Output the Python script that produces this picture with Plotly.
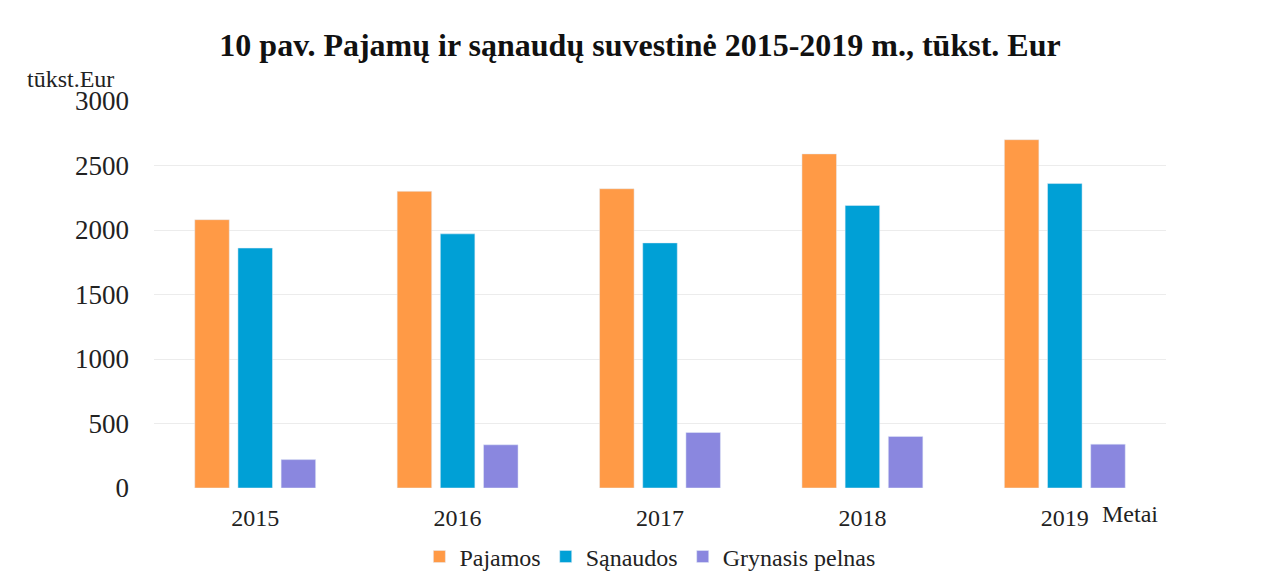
import plotly.graph_objects as go

years = ["2015", "2016", "2017", "2018", "2019"]
pajamos = [2080, 2300, 2320, 2590, 2700]
sanaudos = [1860, 1970, 1900, 2190, 2360]
pelnas = [220, 335, 430, 400, 340]
y_ticks = [0, 500, 1000, 1500, 2000, 2500, 3000]

FONT = "Liberation Serif, Times New Roman, serif"

fig = go.Figure()
fig.add_trace(go.Bar(x=years, y=pajamos, name="Pajamos", marker_color="#FF9A46"))
fig.add_trace(go.Bar(x=years, y=sanaudos, name="Sąnaudos", marker_color="#00A0D6"))
fig.add_trace(go.Bar(x=years, y=pelnas, name="Grynasis pelnas", marker_color="#8A87DF"))

fig.update_layout(
    width=1264, height=580,
    margin=dict(l=146, r=106, t=93, b=100, autoexpand=False),
    paper_bgcolor="white", plot_bgcolor="white",
    font=dict(family=FONT, size=24, color="#222222"),
    title=dict(text="<b>10 pav. Pajamų ir sąnaudų suvestinė 2015-2019 m., tūkst. Eur</b>",
               x=0.5, xanchor="center", y=0.936, yanchor="middle",
               font=dict(family=FONT, size=32, color="#111111")),
    barmode="group", bargap=0.36, bargroupgap=0.2,
    showlegend=True,
    legend=dict(orientation="h", x=0.49, xanchor="center", y=-0.178, yanchor="middle",
                font=dict(family=FONT, size=24, color="#222222"), itemwidth=30,
                traceorder="normal"),
    xaxis=dict(showgrid=False, showline=False, ticks="", automargin=False,
               tickfont=dict(family=FONT, size=24), ticklabelstandoff=13),
    yaxis=dict(range=[0, 3000], tickvals=y_ticks, showgrid=True, gridcolor="#ececec",
               gridwidth=1, zeroline=False, showline=False, ticks="", ticklen=0,
               automargin=False,
               tickfont=dict(family=FONT, size=27), ticklabelstandoff=24),
    annotations=[
        dict(text="tūkst.Eur", xref="paper", yref="paper", x=-0.083, y=1.056,
             xanchor="center", yanchor="middle", showarrow=False,
             font=dict(family=FONT, size=24, color="#222222")),
        dict(text="Metai", xref="paper", yref="paper", x=0.964, y=-0.066,
             xanchor="center", yanchor="middle", showarrow=False,
             font=dict(family=FONT, size=24, color="#222222")),
    ],
)

fig.write_html("out.html")
